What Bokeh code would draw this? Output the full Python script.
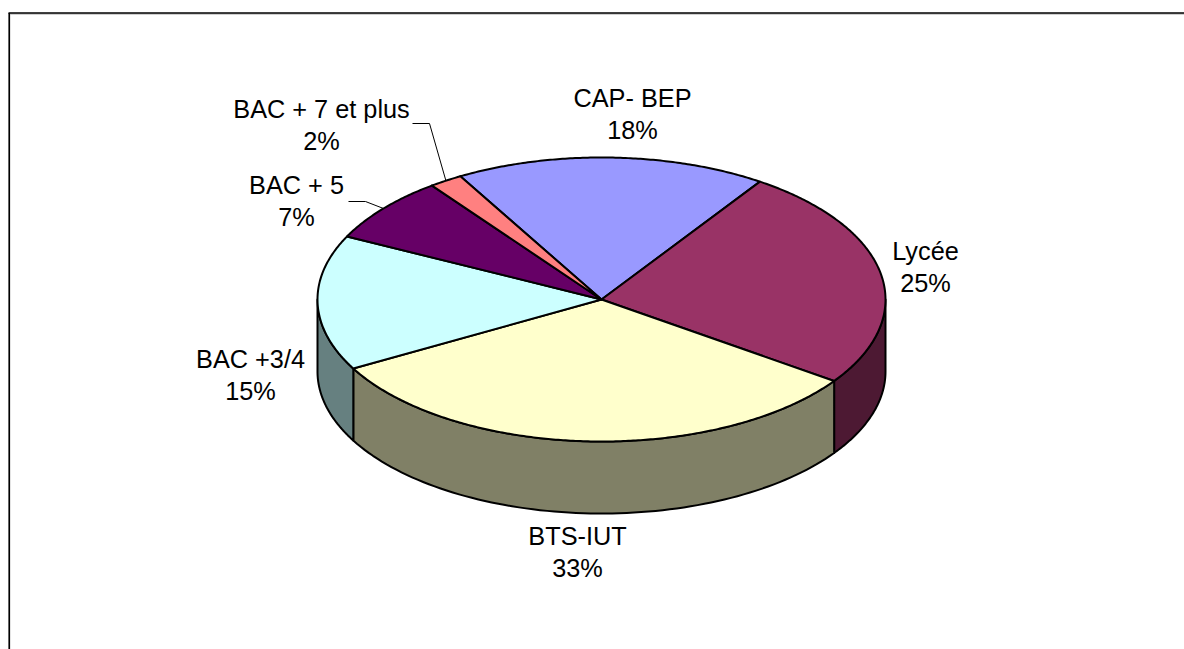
import numpy as np
from bokeh.core.properties import value
from bokeh.embed import file_html
from bokeh.models import ColumnDataSource
from bokeh.plotting import figure
from bokeh.resources import INLINE

categories = ["CAP- BEP", "Lycée", "BTS-IUT", "BAC +3/4", "BAC + 5", "BAC + 7 et plus"]
shares = [17.7, 25.3, 32.2, 15.4, 7.5, 1.9]
share_labels = ["18%", "25%", "33%", "15%", "7%", "2%"]
top_colors = ["#9999FF", "#993366", "#FFFFCC", "#CCFFFF", "#660066", "#FF8080"]
side_colors = ["#4C4C80", "#4D1933", "#808066", "#668080", "#330033", "#804040"]
label_x = [632, 925, 577, 250, 296, 321]
label_y = [97, 250, 535, 358, 184, 108]

CX, CY, RX, RY, DEPTH = 601.0, 299.0, 284.0, 142.0, 72.0
START = -29.8
FONT = "Liberation Sans"
SIZE = "25.3px"
LINE_GAP = 32

def pt(deg, dy=0.0):
    a = np.radians(deg)
    return CX + RX * np.sin(a), CY - RY * np.cos(a) + dy

edges = START + np.cumsum([0] + shares) * 3.6

p = figure(width=1184, height=649, x_range=(0, 1184), y_range=(649, 0),
           toolbar_location=None, output_backend="svg", min_border=0,
           outline_line_color=None, background_fill_color="white")
p.axis.visible = False
p.grid.visible = False

# frame of the original object
p.line([9.5, 9.5], [14, 649], line_color="#c8c8c8", line_width=1)
p.line([9.5, 1184], [13.5, 13.5], line_color="#a0a0a0", line_width=1)
p.line([8.7, 8.7], [12.5, 649], line_color="black", line_width=1.6)
p.line([8, 1184], [12.5, 12.5], line_color="black", line_width=1.6)

# visible side walls
for a0, a1, col in zip(edges[:-1], edges[1:], side_colors):
    lo, hi = max(a0, 90.0), min(a1, 270.0)
    if lo >= hi:
        continue
    t = np.linspace(lo, hi, 80)
    xs, ys = pt(t)
    xb, yb = pt(t, DEPTH)
    p.patch(np.r_[xs, xb[::-1]], np.r_[ys, yb[::-1]], fill_color=col,
            line_color="black", line_width=2, line_join="round")

# top faces
for a0, a1, col in zip(edges[:-1], edges[1:], top_colors):
    t = np.linspace(a0, a1, max(int(a1 - a0) * 2, 8))
    xs, ys = pt(t)
    p.patch(np.r_[CX, xs], np.r_[CY, ys], fill_color=col,
            line_color="black", line_width=2, line_join="round")

# leader lines for the two thin slices
for idx, (x0, x1, yl) in {4: (348, 365, 201), 5: (412, 429, 123)}.items():
    ex, ey = pt((edges[idx] + edges[idx + 1]) / 2)
    p.line([x0, x1, ex], [yl, yl, ey], line_color="black", line_width=1)

src = ColumnDataSource(dict(
    x=label_x + label_x,
    y=label_y + [v + LINE_GAP for v in label_y],
    t=categories + share_labels,
))
p.text("x", "y", text="t", source=src, text_font=value(FONT), text_font_size=value(SIZE),
       text_align="center", text_baseline="middle", text_color="black")

open("out.html", "w").write(file_html(p, INLINE))
